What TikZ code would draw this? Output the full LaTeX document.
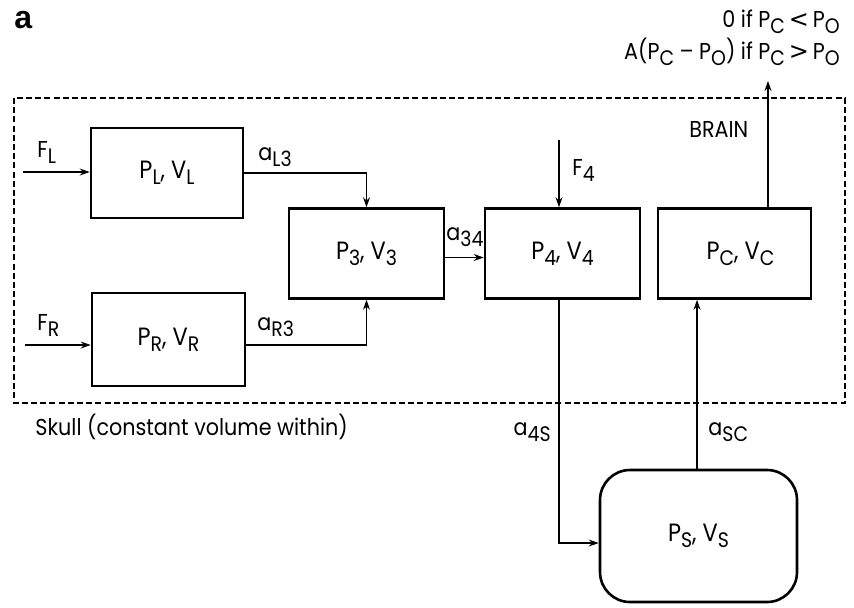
\documentclass[tikz,border=0pt]{standalone}
\usepackage{fontspec}
\setmainfont[FakeStretch=0.9]{Poppins}
\newfontfamily\boldarial{Liberation Sans}
\newfontfamily\dv{DejaVu Sans}
\usetikzlibrary{arrows.meta}
\newcommand\lo[1]{\raisebox{-3pt}{\fontsize{10.5}{10.5}\selectfont #1}}
\newcommand\lt{\,{\dv\fontsize{12}{12}\selectfont <}\,}
\newcommand\gt{\,{\dv\fontsize{12}{12}\selectfont >}\,}
\begin{document}
\begin{tikzpicture}[x=0.5pt,y=-0.5pt,
  box/.style={draw, line width=1.3pt, inner sep=0pt, font=\fontsize{12.5}{14}\selectfont},
  arr/.style={line width=0.6pt, -{Stealth[length=5pt,width=3.5pt]}},
  lbl/.style={font=\fontsize{11.5}{14}\selectfont, inner sep=0pt},
  skull/.style={line width=1pt, dash pattern=on 3pt off 1.6pt}
]
\useasboundingbox (0,0) rectangle (854,607);
\draw[skull] (14,98) rectangle (845,403);
\node[box, minimum width=76pt, minimum height=45pt] (L) at (167,173) {P\lo{L}, V\lo{L}};
\node[box, minimum width=76.5pt, minimum height=46.5pt] (R) at (168.5,339.5) {P\lo{R}, V\lo{R}};
\node[box, minimum width=77.5pt, minimum height=45pt] (B3) at (366.5,253.5) {P\lo{3}, V\lo{3}};
\node[box, minimum width=77.5pt, minimum height=45pt] (B4) at (562.5,253.5) {P\lo{4}, V\lo{4}};
\node[box, minimum width=76.5pt, minimum height=45pt] (C) at (734.5,253.5) {\hspace*{6pt}P\lo{C}, V\lo{C}};
\node[box, rounded corners=15pt, minimum width=98.5pt, minimum height=66pt] (S) at (698.5,536) {P\lo{S}, V\lo{S}};

\node[font=\boldarial\bfseries\fontsize{16}{16}\selectfont, anchor=base west, inner sep=0pt] (lbla) at (14,28) {a};
\node[lbl, anchor=base west] (fl) at (37,157) {F\lo{L}};
\node[lbl, anchor=base west] (fr) at (37,330) {F\lo{R}};
\node[lbl, anchor=base west] (al3) at (258,160) {a\lo{L3}};
\node[lbl, anchor=base west] (ar3) at (257,330) {a\lo{R3}};
\node[lbl, anchor=base west] (a34) at (446,240) {a\lo{34}};
\node[lbl, anchor=base west] (f4l) at (572,175) {F\lo{4}};
\node[lbl, anchor=base east] (a4s) at (551,435) {a\lo{4S}};
\node[lbl, anchor=base west] (asc) at (708,435) {a\lo{SC}};
\node[lbl, anchor=base west] (brain) at (689,137) {BRAIN};
\node[lbl, anchor=base west] (sk) at (35,435) {Skull (constant volume within)};
\node[lbl, anchor=base east] (o1) at (840,27) {0 if P\lo{C}\lt P\lo{O}};
\node[lbl, anchor=base east] (o2) at (840,59) {A(P\lo{C} – P\lo{O}) if P\lo{C}\gt P\lo{O}};

\coordinate (flst) at (23,172);
\coordinate (frst) at (25,345);
\coordinate (f4s) at (559,140);
\coordinate (s4) at (559,543);
\coordinate (sc) at (697,470);
\coordinate (co) at (768,81);
\draw[arr] (flst) -- (flst -| L.west);
\draw[arr] (frst) -- (frst -| R.west);
\draw[arr] (L.east) -| (B3.north);
\draw[arr] (frst -| R.east) -| (B3.south);
\draw[arr] ([yshift=-2pt]B3.east) -- ([yshift=-2pt]B4.west);
\draw[arr] (f4s) -- (f4s |- B4.north);
\draw[arr] (f4s |- B4.south) -- (s4) -- (s4 -| S.west);
\draw[arr] (sc |- S.north) -- (sc |- C.south);
\draw[arr] (co |- C.north) -- (co);
\end{tikzpicture}
\end{document}
